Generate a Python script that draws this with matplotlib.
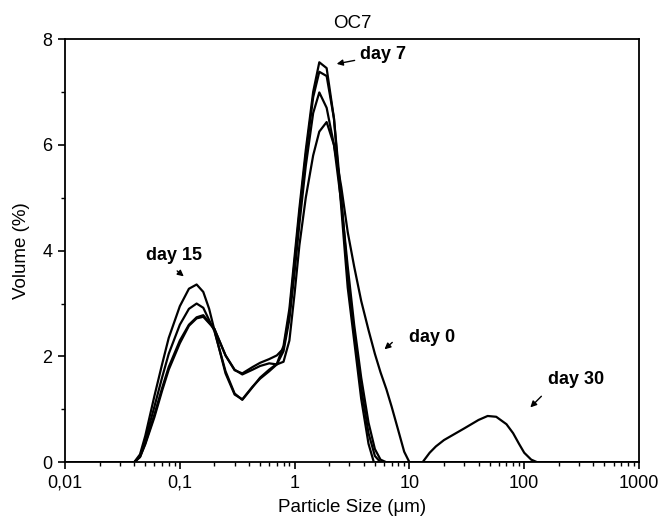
import matplotlib
matplotlib.use('Agg')
import matplotlib.pyplot as plt
from matplotlib.ticker import FixedLocator, FixedFormatter, LogLocator, NullFormatter

plt.rcParams['font.family'] = ['Liberation Sans', 'DejaVu Sans']

# particle size (um) and volume (%)
day15_x = [0.01, 0.04, 0.045, 0.05, 0.06, 0.07, 0.08, 0.1, 0.12, 0.14, 0.16, 0.18, 0.2, 0.25,
           0.3, 0.35, 0.43, 0.5, 0.6, 0.7, 0.8, 0.9, 1.0, 1.1, 1.25, 1.45, 1.64, 1.9, 2.2,
           2.55, 2.9, 3.3, 3.8, 4.4, 5.0, 5.6, 6.3, 1000]
day15_y = [0, 0, 0.15, 0.5, 1.25, 1.85, 2.35, 2.95, 3.28, 3.36, 3.22, 2.9, 2.5, 1.68,
           1.28, 1.19, 1.43, 1.58, 1.72, 1.85, 2.1, 2.7, 3.6, 4.5, 5.6, 6.6, 6.99, 6.7, 6.0,
           4.9, 3.7, 2.6, 1.6, 0.75, 0.25, 0.05, 0, 0]

day7_x = [0.01, 0.04, 0.045, 0.05, 0.06, 0.07, 0.08, 0.1, 0.12, 0.14, 0.16, 0.2, 0.25,
          0.3, 0.35, 0.43, 0.5, 0.6, 0.7, 0.8, 0.9, 1.0, 1.1, 1.25, 1.45, 1.64, 1.9, 2.2,
          2.55, 2.9, 3.3, 3.8, 4.4, 4.9, 1000]
day7_y = [0, 0, 0.12, 0.42, 1.05, 1.6, 2.05, 2.6, 2.9, 3.0, 2.92, 2.48, 1.72,
          1.3, 1.18, 1.42, 1.6, 1.75, 1.86, 2.2, 2.9, 3.9, 4.8, 5.9, 7.0, 7.56, 7.45, 6.5,
          4.8, 3.3, 2.3, 1.2, 0.35, 0, 0]

day30_x = [0.01, 0.04, 0.045, 0.05, 0.06, 0.07, 0.08, 0.1, 0.12, 0.14, 0.16, 0.2, 0.25,
           0.3, 0.35, 0.43, 0.5, 0.6, 0.7, 0.8, 0.9, 1.0, 1.1, 1.25, 1.45, 1.64, 1.9, 2.2,
           2.55, 2.9, 3.3, 3.8, 4.4, 5.0, 5.6, 13, 15, 17, 20, 30, 40, 48, 57, 70, 80, 90,
           100, 115, 130, 1000]
day30_y = [0, 0, 0.1, 0.36, 0.9, 1.4, 1.8, 2.3, 2.6, 2.74, 2.78, 2.52, 2.02,
           1.74, 1.68, 1.8, 1.88, 1.95, 2.02, 2.15, 2.8, 3.8, 4.7, 5.8, 6.9, 7.38, 7.3, 6.5,
           5.0, 3.5, 2.45, 1.4, 0.55, 0.12, 0, 0, 0.18, 0.3, 0.42, 0.64, 0.8, 0.875, 0.86,
           0.72, 0.55, 0.35, 0.18, 0.05, 0, 0]

day0_x = [0.01, 0.04, 0.045, 0.05, 0.06, 0.07, 0.08, 0.1, 0.12, 0.14, 0.16, 0.2, 0.25,
          0.3, 0.35, 0.43, 0.5, 0.6, 0.7, 0.8, 0.9, 1.0, 1.1, 1.25, 1.45, 1.64, 1.9, 2.2,
          2.55, 2.9, 3.3, 3.8, 4.4, 5.0, 5.6, 6.3, 7.0, 8.0, 9.0, 10, 1000]
day0_y = [0, 0, 0.1, 0.34, 0.85, 1.35, 1.75, 2.25, 2.58, 2.72, 2.75, 2.52, 2.02,
          1.75, 1.66, 1.75, 1.82, 1.87, 1.85, 1.9, 2.3, 3.2, 4.1, 5.0, 5.8, 6.25, 6.43, 6.0,
          5.2, 4.35, 3.7, 3.05, 2.5, 2.05, 1.7, 1.38, 1.05, 0.6, 0.2, 0, 0]

x_ticks = [0.01, 0.1, 1, 10, 100, 1000]
x_labels = ['0,01', '0,1', '1', '10', '100', '1000']

fig = plt.figure(figsize=(6.59, 5.2), dpi=100)
ax = fig.add_axes([0.0987, 0.111, 0.871, 0.814])

for xs, ys in [(day0_x, day0_y), (day7_x, day7_y), (day15_x, day15_y), (day30_x, day30_y)]:
    ax.plot(xs, ys, color='black', lw=1.6)

ax.set_xscale('log')
ax.set_xlim(0.01, 1000)
ax.set_ylim(0, 8)
ax.xaxis.set_major_locator(FixedLocator(x_ticks))
ax.xaxis.set_major_formatter(FixedFormatter(x_labels))
ax.xaxis.set_minor_locator(LogLocator(base=10, subs=range(2, 10)))
ax.xaxis.set_minor_formatter(NullFormatter())
ax.set_yticks([0, 2, 4, 6, 8])
ax.set_yticks([1, 3, 5, 7], minor=True)

ax.tick_params(which='major', direction='out', length=5, width=1.2, labelsize=13,
               colors='black', top=False, right=False, pad=4)
ax.tick_params(which='minor', direction='out', length=3, width=1.0, top=False, right=False)
for s in ax.spines.values():
    s.set_linewidth(1.3)

ax.set_title('OC7', fontsize=13.5, pad=8)
ax.set_xlabel('Particle Size (μm)', fontsize=13.5, labelpad=5)
ax.set_ylabel('Volume (%)', fontsize=13.5, labelpad=9)

arrow = dict(arrowstyle='-|>', color='black', lw=1.0, mutation_scale=9)
ax.annotate('day 7', xy=(2.2, 7.52), xytext=(3.72, 7.70), fontsize=13, fontweight='bold',
            va='center', ha='left', arrowprops=arrow)
ax.annotate('', xy=(0.113, 3.48), xytext=(0.0908, 3.65), arrowprops=arrow)
ax.text(0.089, 3.91, 'day 15', fontsize=13, fontweight='bold', ha='center', va='center')
ax.annotate('', xy=(5.81, 2.10), xytext=(7.39, 2.30), arrowprops=arrow)
ax.text(9.92, 2.36, 'day 0', fontsize=13, fontweight='bold', ha='left', va='center')
ax.annotate('', xy=(108.6, 1.0), xytext=(146.7, 1.285), arrowprops=arrow)
ax.text(161, 1.56, 'day 30', fontsize=13, fontweight='bold', ha='left', va='center')

plt.savefig('out.png', dpi=100)
